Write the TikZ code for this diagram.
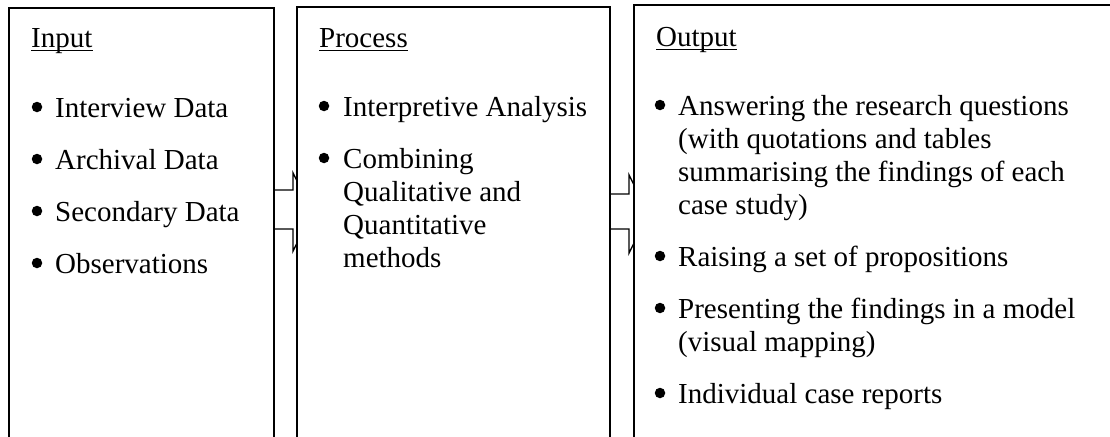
\documentclass[tikz,border=0pt]{standalone}
\usepackage{fontspec}
\setmainfont{Liberation Serif}
\usetikzlibrary{calc,backgrounds}
\newcommand\txtsize{\fontsize{29pt}{33pt}\selectfont}
\begin{document}
\begin{tikzpicture}[x=1pt,y=-1pt,
  frame/.style={draw=black, line width=2pt, fill=white, anchor=north west,
    minimum height=700pt, inner sep=0pt, outer sep=0pt},
  blockarrow/.style={draw=black, line width=1.4pt, fill=white, line join=miter},
  heading/.style={anchor=base west, inner sep=0pt, font=\txtsize},
  itemtext/.style={anchor=base west, inner sep=0pt, font=\txtsize},
  dot/.style={circle, fill=black, inner sep=0pt, minimum size=10.5pt},
  underbar/.style={line width=1.8pt}]
\useasboundingbox (0,0) rectangle (1110,436);
\clip (0,0) rectangle (1110,436);

% the three stage frames (open at the bottom and on the far right)
\node[frame, minimum width=265pt] (b1) at (9,8) {};
\node[frame, minimum width=313pt] (b2) at (297,7) {};
\node[frame, minimum width=600pt] (b3) at (634,5) {};

% block arrows behind the frames, tips hidden by the next frame
\begin{scope}[on background layer]
  \draw[blockarrow] ($(b1.north east)+(0,182)$) -- ++(19,0) -- ++(0,-17)
    -- ++(20,39) -- ++(-20,39) -- ++(0,-22) -- ($(b1.north east)+(0,221)$) -- cycle;
  \draw[blockarrow] ($(b2.north east)+(0,187)$) -- ++(19,0) -- ++(0,-19)
    -- ++(20,39) -- ++(-20,39) -- ++(0,-24) -- ($(b2.north east)+(0,222)$) -- cycle;
\end{scope}

% Input
\node[heading] (h1) at (31,48) {Input};
\draw[underbar] ([yshift=-2.5pt]h1.base west) -- ([yshift=-2.5pt]h1.base east);
\node[dot] (d11) at (37,107) {};
\node[itemtext] (t11) at (55,117) {Interview Data};
\node[dot] (d12) at (37,159) {};
\node[itemtext] (t12) at (55,169) {Archival Data};
\node[dot] (d13) at (37,211) {};
\node[itemtext] (t13) at (55,221) {Secondary Data};
\node[dot] (d14) at (37,263) {};
\node[itemtext] (t14) at (55,273) {Observations};

% Process
\node[heading] (h2) at (319,48) {Process};
\draw[underbar] ([yshift=-2.5pt]h2.base west) -- ([yshift=-2.5pt]h2.base east);
\node[dot] (d21) at (324,106) {};
\node[itemtext] (t21) at (343,116) {Interpretive Analysis};
\node[dot] (d22) at (324,158) {};
\node[itemtext] (t22a) at (343,168) {Combining};
\node[itemtext] (t22b) at (343,201) {Qualitative and};
\node[itemtext] (t22c) at (343,234) {Quantitative};
\node[itemtext] (t22d) at (343,267) {methods};

% Output
\node[heading] (h3) at (656,47) {Output};
\draw[underbar] ([yshift=-2.5pt]h3.base west) -- ([yshift=-2.5pt]h3.base east);
\node[dot] (d31) at (660,105) {};
\node[itemtext] (t31a) at (678,115) {Answering the research questions};
\node[itemtext] (t31b) at (678,148) {(with quotations and tables};
\node[itemtext] (t31c) at (678,181) {summarising the findings of each};
\node[itemtext] (t31d) at (678,214) {case study)};
\node[dot] (d32) at (660,256) {};
\node[itemtext] (t32) at (678,266) {Raising a set of propositions};
\node[dot] (d33) at (660,308) {};
\node[itemtext] (t33a) at (678,318) {Presenting the findings in a model};
\node[itemtext] (t33b) at (678,351) {(visual mapping)};
\node[dot] (d34) at (660,393) {};
\node[itemtext] (t34) at (678,403) {Individual case reports};
\end{tikzpicture}
\end{document}
